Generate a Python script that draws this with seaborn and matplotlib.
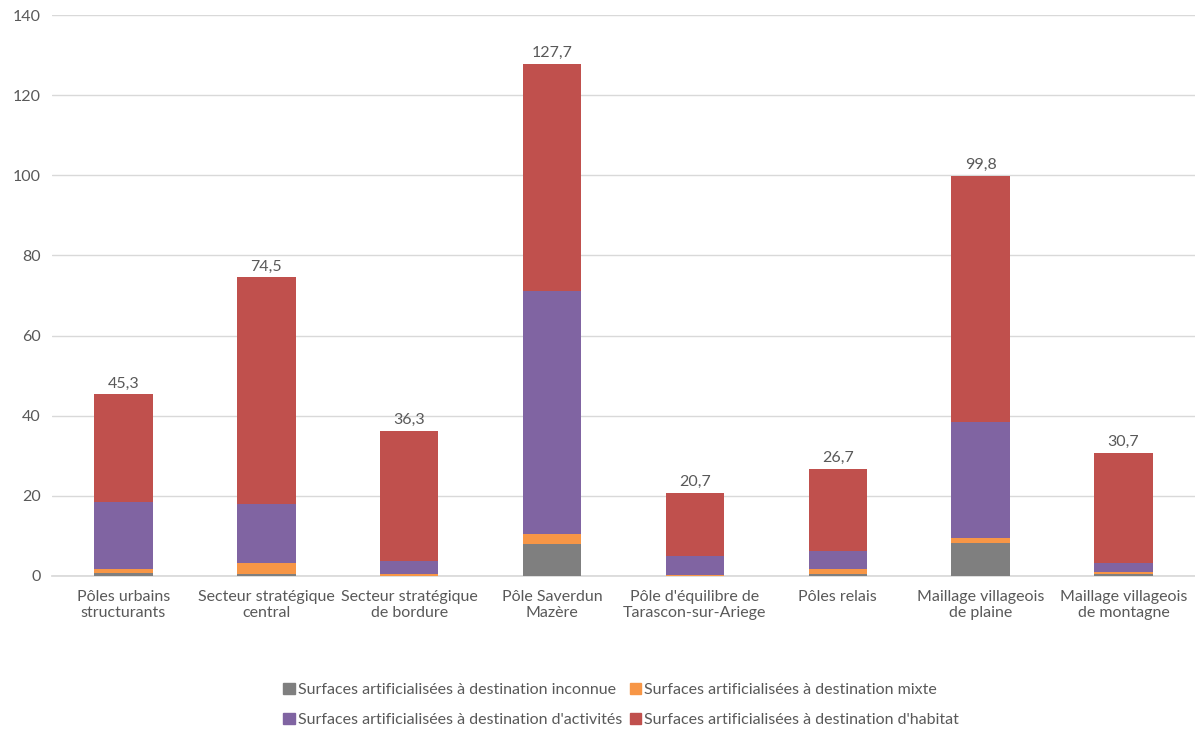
import numpy as np
import pandas as pd
import seaborn as sns
import matplotlib.pyplot as plt

# Data
categories = [
    "Pôles urbains\nstructurants",
    "Secteur stratégique\ncentral",
    "Secteur stratégique\nde bordure",
    "Pôle Saverdun\nMazère",
    "Pôle d'équilibre de\nTarascon-sur-Ariege",
    "Pôles relais",
    "Maillage villageois\nde plaine",
    "Maillage villageois\nde montagne",
]
inconnue = [0.7, 0.6, 0.1, 8.0, 0.1, 0.5, 8.2, 0.5]
mixte = [1.0, 2.6, 0.5, 2.5, 0.1, 1.2, 1.3, 0.4]
activites = [16.8, 14.8, 3.1, 60.6, 4.8, 4.5, 28.9, 2.3]
totals = [45.3, 74.5, 36.3, 127.7, 20.7, 26.7, 99.8, 30.7]
habitat = [t - a - m - i for t, a, m, i in zip(totals, activites, mixte, inconnue)]
total_labels = ["45,3", "74,5", "36,3", "127,7", "20,7", "26,7", "99,8", "30,7"]

series_names = [
    "Surfaces artificialisées à destination inconnue",
    "Surfaces artificialisées à destination mixte",
    "Surfaces artificialisées à destination d'activités",
    "Surfaces artificialisées à destination d'habitat",
]
colors = ["#7f7f7f", "#f79646", "#8064a2", "#c0504d"]

sns.set_theme(style="white")
plt.rcParams["font.family"] = ["Lato", "DejaVu Sans"]

df = pd.DataFrame({
    "cat": categories,
    "inconnue": inconnue,
    "mixte": mixte,
    "activites": activites,
    "habitat": habitat,
})
cols = ["inconnue", "mixte", "activites", "habitat"]
cum = df[cols].cumsum(axis=1)

fig = plt.figure(figsize=(11.95, 7.33), dpi=100)
ax = fig.add_axes([0.0435, 0.2142, 0.9565, 0.7653])

# draw cumulative bars from top layer down so they stack visually
for col, color in zip(reversed(cols), reversed(colors)):
    sns.barplot(x=df["cat"], y=cum[col], color=color, width=0.41,
                saturation=1, linewidth=0, ax=ax, zorder=3)

for i, lab in enumerate(total_labels):
    ax.text(i, totals[i] + 1.0, lab, ha="center", va="bottom",
            fontsize=11.5, color="#595959")

ax.set_ylim(0, 140)
ax.set_xlim(-0.5, 7.5)
ax.set_yticks(range(0, 141, 20))
ax.yaxis.grid(True, color="#d9d9d9", linewidth=1, zorder=0)
ax.set_axisbelow(True)
for s in ["top", "right", "left"]:
    ax.spines[s].set_visible(False)
ax.spines["bottom"].set_color("#d9d9d9")
ax.tick_params(axis="both", length=0, labelsize=11.5, labelcolor="#595959")
ax.tick_params(axis="x", pad=10)
ax.tick_params(axis="y", pad=8)
ax.set_xlabel("")
ax.set_ylabel("")

handles = [plt.Rectangle((0, 0), 1, 1, color=c) for c in colors]
order = [0, 2, 1, 3]
fig.legend([handles[k] for k in order], [series_names[k] for k in order],
           loc="center", bbox_to_anchor=(0.52, 0.038), ncol=2, frameon=False,
           fontsize=11.5, handlelength=0.7, handleheight=0.7, handletextpad=0.2,
           columnspacing=0.5, labelspacing=1.0, labelcolor="#595959")

fig.savefig("out.png", dpi=100)
